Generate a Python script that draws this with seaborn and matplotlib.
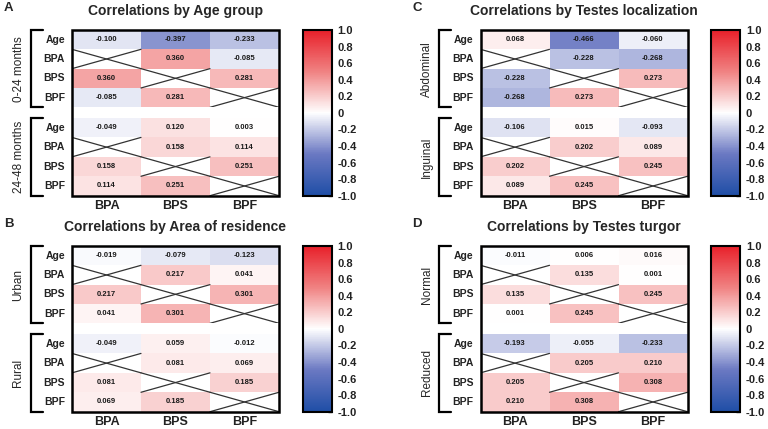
import matplotlib
matplotlib.use("Agg")
import matplotlib.pyplot as plt
import numpy as np
import pandas as pd
import seaborn as sns
from matplotlib.colors import LinearSegmentedColormap
from matplotlib.patches import Rectangle

W, H = 768, 429

COLS = ["BPA", "BPS", "BPF"]
ROWS = ["Age", "BPA", "BPS", "BPF"]
CB_TICKS = [1.0, 0.8, 0.6, 0.4, 0.2, 0.0, -0.2, -0.4, -0.6, -0.8, -1.0]
CB_LABELS = ["1.0", "0.8", "0.6", "0.4", "0.2", "0", "-0.2", "-0.4", "-0.6", "-0.8", "-1.0"]

# correlation of Age with BPA, BPS, BPF ; pairs = BPA-BPS, BPA-BPF, BPS-BPF
age_0_24 = [-0.100, -0.397, -0.233]
pairs_0_24 = [0.360, -0.085, 0.281]
age_24_48 = [-0.049, 0.120, 0.003]
pairs_24_48 = [0.158, 0.114, 0.251]

age_urban = [-0.019, -0.079, -0.123]
pairs_urban = [0.217, 0.041, 0.301]
age_rural = [-0.049, 0.059, -0.012]
pairs_rural = [0.081, 0.069, 0.185]

age_abdominal = [0.068, -0.466, -0.060]
pairs_abdominal = [-0.228, -0.268, 0.273]
age_inguinal = [-0.106, 0.015, -0.093]
pairs_inguinal = [0.202, 0.089, 0.245]

age_normal = [-0.011, 0.006, 0.016]
pairs_normal = [0.135, 0.001, 0.245]
age_reduced = [-0.193, -0.055, -0.233]
pairs_reduced = [0.205, 0.210, 0.308]

panels = [
    ("A", "Correlations by Age group", 0, 0,
     [("0-24 months", age_0_24, pairs_0_24), ("24-48 months", age_24_48, pairs_24_48)]),
    ("B", "Correlations by Area of residence", 0, 216,
     [("Urban", age_urban, pairs_urban), ("Rural", age_rural, pairs_rural)]),
    ("C", "Correlations by Testes localization", 408.5, 0,
     [("Abdominal", age_abdominal, pairs_abdominal), ("Inguinal", age_inguinal, pairs_inguinal)]),
    ("D", "Correlations by Testes turgor", 408.5, 216,
     [("Normal", age_normal, pairs_normal), ("Reduced", age_reduced, pairs_reduced)]),
]

cmap = LinearSegmentedColormap.from_list(
    "bwr_gp",
    [(0.0, "#1f4ea6"), (0.25, "#6a78c2"), (0.5, "#ffffff"), (0.75, "#f08282"), (1.0, "#e8202a")],
)

FONT = "Liberation Sans"


def corr_table(age, pairs):
    ab, af, sf = pairs
    m = np.array([
        age,
        [np.nan, ab, af],
        [ab, np.nan, sf],
        [af, sf, np.nan],
    ], dtype=float)
    return pd.DataFrame(m, index=ROWS, columns=COLS)


def px_axes(fig, x0, y0, x1, y1):
    return fig.add_axes([x0 / W, 1 - y1 / H, (x1 - x0) / W, (y1 - y0) / H])


sns.set_style("white")
plt.rcParams["font.family"] = [FONT, "DejaVu Sans"]

fig = plt.figure(figsize=(W / 100, H / 100), dpi=100)
overlay_items = []

for letter, title, dx, dy, groups in panels:
    hx0, hx1 = 72 + dx, 279 + dx
    spans = [(30 + dy, 107.3 + dy), (118 + dy, 195.7 + dy)]
    cax = px_axes(fig, 302.7 + dx, 30 + dy, 331.7 + dx, 195.7 + dy)

    for gi, ((gname, age, pairs), (y0, y1)) in enumerate(zip(groups, spans)):
        ax = px_axes(fig, hx0, y0, hx1, y1)
        df = corr_table(age, pairs)
        sns.heatmap(
            df, ax=ax, cmap=cmap, vmin=-1, vmax=1, annot=True, fmt=".3f",
            annot_kws={"fontsize": 5.5, "fontweight": "bold", "color": "#1a1a1a"},
            cbar=(gi == 0), cbar_ax=cax if gi == 0 else None,
            linewidths=0, square=False,
        )
        if gi == 0:
            cbar = ax.collections[0].colorbar
        # X marks on the diagonal (variable with itself)
        for i in range(1, 4):
            j = i - 1
            ax.plot([j, j + 1], [i, i + 1], color="#333333", lw=0.9)
            ax.plot([j, j + 1], [i + 1, i], color="#333333", lw=0.9)
        ax.set_ylabel("")
        ax.set_xlabel("")
        ax.tick_params(axis="both", length=0)
        ax.set_yticklabels(ROWS, rotation=0, fontsize=7.5, fontweight="bold", color="#222222")
        ax.tick_params(axis="y", pad=5)
        if gi == 1:
            ax.set_xticklabels(COLS, fontsize=9, fontweight="bold", color="#222222")
            ax.tick_params(axis="x", pad=3)
        else:
            ax.set_xticks([])
        overlay_items.append((gname, y0, y1, dx))

    cbar.set_ticks(CB_TICKS)
    cbar.set_ticklabels(CB_LABELS)
    cax.tick_params(axis="y", direction="in", length=3, width=1, pad=4, color="#333333",
                    labelsize=8)
    for lab in cax.get_yticklabels():
        lab.set_fontweight("bold")
        lab.set_color("#222222")
    cbar.outline.set_linewidth(1.5)
    cbar.outline.set_edgecolor("black")

ov = fig.add_axes([0, 0, 1, 1])
ov.set_xlim(0, W)
ov.set_ylim(H, 0)
ov.axis("off")
ov.patch.set_alpha(0)

for letter, title, dx, dy, groups in panels:
    ov.text(4 + dx, 8 + dy, letter, fontsize=9.5, fontweight="bold", ha="left", va="center")
    ov.text(175.5 + dx, 10.5 + dy, title, fontsize=10, fontweight="bold", ha="center", va="center")
    ov.add_patch(Rectangle((72 + dx, 30 + dy), 207, 165.7, fill=False, lw=1.8,
                           edgecolor="black", zorder=5))

for gname, y0, y1, dx in overlay_items:
    bx = 30.7 + dx
    ov.plot([bx + 12, bx, bx, bx + 12], [y0, y0, y1, y1], color="black", lw=1.6,
            solid_joinstyle="miter")
    ov.text(18.5 + dx, (y0 + y1) / 2, gname, rotation=90, ha="center", va="center",
            fontsize=8.5)

fig.savefig("out.png", dpi=100)
